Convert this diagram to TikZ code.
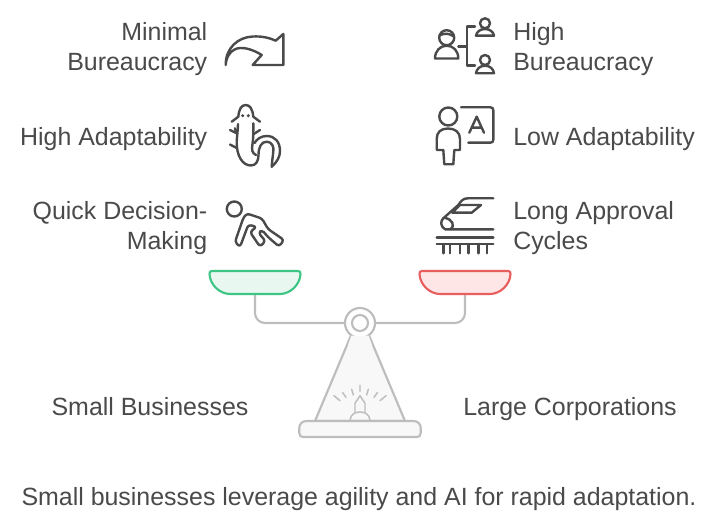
\documentclass[tikz,border=0pt]{standalone}
\usepackage{fontspec}
\setmainfont{Liberation Sans}
\definecolor{txt}{HTML}{4A4A4A}
\definecolor{ico}{HTML}{4A4A4A}
\definecolor{scal}{HTML}{BDBDBD}
\definecolor{scalfill}{HTML}{F8F8F8}
\definecolor{gline}{HTML}{3CC583}
\definecolor{gfill}{HTML}{E8F8F0}
\definecolor{rline}{HTML}{E85E5E}
\definecolor{rfill}{HTML}{FFE6E6}
\tikzset{
  lab/.style={text=txt,font=\fontsize{18.7}{22.5}\selectfont,inner sep=0pt,align=left},
  labr/.style={lab,align=right,anchor=east},
  labl/.style={lab,align=left,anchor=west},
  labc/.style={lab,anchor=base},
  icon/.style={draw=ico,line width=1.8pt,line cap=round,line join=round},
  scaleln/.style={draw=scal,line width=1.6pt,line cap=round,line join=round},
  ray/.style={draw=scal,line width=1.1pt,line cap=round}
}
\begin{document}
\begin{tikzpicture}[x=0.75pt,y=-0.75pt]
\useasboundingbox (0,0) rectangle (720,527);
\fill[white] (0,0) rectangle (720,527);
% texts
\node[labr] (t1) at (207.5,49) {Minimal\\Bureaucracy};
\node[labr] (t2) at (207.5,139) {High Adaptability};
\node[labr] (t3) at (207.5,228) {Quick Decision-\\Making};
\node[labl] (t4) at (513,49) {High\\Bureaucracy};
\node[labl] (t5) at (513,139) {Low Adaptability};
\node[labl] (t6) at (513,228) {Long Approval\\Cycles};
\node[labc] (t7) at (150,415) {Small Businesses};
\node[labc] (t8) at (570,415) {Large Corporations};
\node[labc] (t9) at (359,505) {Small businesses leverage agility and AI for rapid adaptation.};
% arrow icon
\draw[icon] (225.7,65) .. controls (225.5,48) and (238,37) .. (253,36.5) .. controls (262,36) and (270,38) .. (275.7,40.7) -- (283.3,34) -- (283.3,65) -- (252.7,65) -- (261.7,55) .. controls (254,50) and (245,47.5) .. (240,48) .. controls (232,48.5) and (226,56) .. (225.7,65);
% lizard icon
\draw[icon] (231.7,121.7) -- (238.3,116.7) .. controls (239,109) and (241.5,105) .. (245.7,105) .. controls (250,105) and (252.5,109) .. (253.3,116.7) -- (260,121.7);
\fill[ico] (242.7,115.7) circle (1.7) (248.3,115.7) circle (1.7);
\draw[icon] (238,124) .. controls (238,130) and (236.7,137) .. (236.7,143) .. controls (236.7,155) and (242,165.5) .. (251,165.5) .. controls (256,165.5) and (258.5,161) .. (258.5,155) .. controls (258.5,147) and (261.5,141.7) .. (266.7,141.7) .. controls (272,141.7) and (274,147) .. (273.3,151) .. controls (273,156) and (272,161) .. (271.7,166.7);
\draw[icon] (271.7,166.7) .. controls (277,162) and (280,157) .. (280,151) .. controls (280,142) and (275,136) .. (266.7,136) .. controls (261,136) and (257,139) .. (254.5,143);
\draw[icon] (253.3,123.3) .. controls (253.3,130) and (253.5,138) .. (252.5,144) .. controls (251.5,150) and (252,153) .. (256,155);
\draw[icon] (230,130) -- (236.7,133.3) (235,128.3) -- (236.7,133.3) (230,144.5) -- (236.7,148);
\draw[icon] (260,130) -- (253.3,134.3);
% runner icon
\coordinate (runc) at (234.3,209);
\draw[icon] (runc) circle (7.5);
\draw[icon,rounded corners=2.2pt] (246.7,213.5) -- (243.3,218) -- (235,242) -- (240,247) -- (248.3,224.7) -- (256.7,226.8) -- (250,232) -- (260,246.7) -- (265.5,241) -- (258.5,233) -- (262,230) -- (268,237) -- (279,246.5) -- (284,240) -- (268,229) -- (262,218.5) -- cycle;
% hierarchy icon
\draw[icon] (446.7,37.7) circle (7.5);
\draw[icon] (439.5,35.5) .. controls (444,33) and (449,33) .. (454,36.5);
\draw[icon] (435,58.5) .. controls (435,51) and (440,45.7) .. (446.7,45.7) .. controls (453.5,45.7) and (458.3,51) .. (458.3,58.5) -- cycle;
\draw[icon] (458.3,46.7) -- (466.7,46.7);
\draw[icon] (475,26.7) -- (466.7,26.7) -- (466.7,65.7) -- (475,65.7);
\draw[icon] (485,23.3) circle (5);
\draw[icon] (476,35.7) .. controls (476.5,32) and (480,29) .. (485,29) .. controls (490,29) and (493.5,32) .. (494,35.7) -- cycle;
\draw[icon] (485,60) circle (5);
\draw[icon] (476,73.3) .. controls (476.5,69) and (480,65.7) .. (485,65.7) .. controls (490,65.7) and (493.5,69) .. (494,73.3) -- cycle;
% teacher icon
\draw[icon] (448.3,116.5) circle (9);
\draw[icon] (436.7,150) -- (436.7,139) .. controls (436.7,132) and (441,128.5) .. (448,128.5) .. controls (455,128.5) and (460,132) .. (460,139) -- (460,150) -- (454.3,150) -- (453.3,164.3) -- (444.3,164.3) -- (443.3,150) -- cycle;
\draw[icon] (461,107.3) -- (490.3,107.3) .. controls (492.3,107.3) and (493.3,108.3) .. (493.3,110.3) -- (493.3,139.7) .. controls (493.3,141.7) and (492.3,142.7) .. (490.3,142.7) -- (468.3,142.7);
\draw[icon] (469.3,132.7) -- (476.7,116.7) -- (484,132.7) (471.7,127.7) -- (481.7,127.7);
% train icon
\draw[icon] (493.3,198.3) -- (468,198.3) .. controls (463,198.3) and (461,201) .. (458.3,205) -- (443.3,218.3) .. controls (440.5,221) and (440,226) .. (445,229.3) -- (493.3,229.3);
\draw[icon] (460,205) -- (481,205) -- (471.7,212.7) -- (452.3,212.7) -- cycle;
\draw[icon] (445,218) .. controls (452,219) and (456,226) .. (450,229.3);
\draw[icon] (436.7,237.3) -- (493.3,237.3) (436.7,244) -- (493.3,244);
\draw[icon] (443.3,244) -- (443.3,253.3) (450,244) -- (450,253.3) (460,244) -- (460,253.3) (468.3,244) -- (468.3,253.3) (478.3,244) -- (478.3,253.3) (486.7,244) -- (486.7,253.3);
% beam
\node[draw=scal,line width=1.6pt,circle,minimum size=30*0.75pt,inner sep=0pt] (pivot) at (360,323) {};
\node[draw=scal,line width=1.6pt,circle,minimum size=16*0.75pt,inner sep=0pt] (pivotin) at (360,323) {};
\coordinate (lp) at (255,294);
\coordinate (rp) at (465,294);
\draw[scaleln,rounded corners=7.5pt] (lp) |- (pivot.west);
\draw[scaleln,rounded corners=7.5pt] (rp) |- (pivot.east);
% pans
\draw[draw=gline,fill=gfill,line width=1.6pt,line join=round] (212,271) -- (298,271) .. controls (300,271) and (300.5,272) .. (300.5,274) .. controls (300,285) and (290,294) .. (280,294) -- (230,294) .. controls (220,294) and (210,285) .. (209.5,274) .. controls (209.5,272) and (210,271) .. (212,271) -- cycle;
\draw[draw=rline,fill=rfill,line width=1.6pt,line join=round] (422,271) -- (508,271) .. controls (510,271) and (510.5,272) .. (510.5,274) .. controls (510,285) and (500,294) .. (490,294) -- (440,294) .. controls (430,294) and (420,285) .. (419.5,274) .. controls (419.5,272) and (420,271) .. (422,271) -- cycle;
% stand
\draw[scaleln,fill=scalfill] (351,335.5) -- (315,421) -- (405,421) -- (369,335.5);
\fill[scalfill] (351.5,335.5) .. controls (356,338.5) and (364,338.5) .. (368.5,335.5) -- (372,345) -- (348,345) -- cycle;
\draw[scaleln,fill=scalfill] (307,421) -- (413,421) .. controls (418,421) and (420.7,424) .. (420.7,428) -- (420.7,433) .. controls (420.7,436) and (419,437) .. (417,437) -- (303,437) .. controls (301,437) and (299.3,436) .. (299.3,433) -- (299.3,428) .. controls (299.3,424) and (302,421) .. (307,421) -- cycle;
\draw[scaleln,line width=1.1pt] (350,420) .. controls (351,414) and (355,412) .. (360,412) .. controls (365,412) and (369,414) .. (370,420);
\draw[scaleln,line width=1.1pt] (355,412) -- (355,403.3) -- (360,395.7) -- (365,403.3) -- (365,412);
\draw[ray] (360,385) -- (360,391.7) (351.7,389.3) -- (353.3,395) (368.3,389.3) -- (366.7,395) (342.7,392.7) -- (346,397.3) (377.3,392.7) -- (374,397.3) (334,395.7) -- (340,400.7) (386,395.7) -- (380,400.7);
\end{tikzpicture}
\end{document}
